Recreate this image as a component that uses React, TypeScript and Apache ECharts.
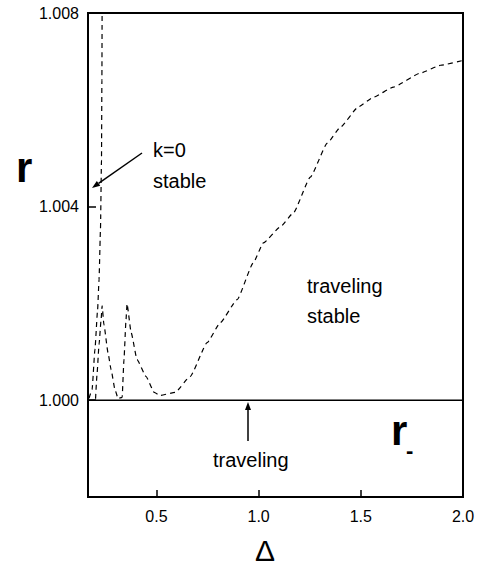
import React, { useEffect, useRef } from "react";
import * as echarts from "echarts";

// Δ range and r range
const xMin = 0.165;
const xMax = 2.0;
const yMin = 0.998;
const yMax = 1.008;

const xTickValues = [0.5, 1.0, 1.5];
const xLabelValues = [0.5, 1.0, 1.5, 2.0];
const yTickValues = [1.0, 1.004, 1.008];

// k=0 stability boundary (nearly vertical dashed curve)
const kZeroDelta = [0.170, 0.185, 0.199, 0.212, 0.219, 0.226, 0.231, 0.233, 0.234];
const kZeroR = [1.00004, 1.00022, 1.00105, 1.00187, 1.00249, 1.00352, 1.00496, 1.00661, 1.008];

// traveling-stable boundary (dashed)
const travDelta = [
  0.202, 0.209, 0.219, 0.229, 0.234, 0.243, 0.263, 0.278, 0.297, 0.312,
  0.332, 0.341, 0.351, 0.356, 0.376, 0.405, 0.449, 0.489, 0.518, 0.591,
  0.665, 0.748, 0.812, 0.895, 0.974, 1.023, 1.106, 1.170, 1.253, 1.336,
  1.400, 1.488, 1.562, 1.660, 1.792, 1.890, 2.0,
];
const travR = [
  1.00003, 1.00053, 1.00115, 1.00166, 1.00195, 1.00156, 1.00098, 1.00063, 1.00022, 1.000035,
  1.00006, 1.00084, 1.00166, 1.00199, 1.0014, 1.00084, 1.00049, 1.00016, 1.0001, 1.00016,
  1.00049, 1.00119, 1.0016, 1.00208, 1.00284, 1.00325, 1.00358, 1.00387, 1.00461, 1.00531,
  1.00564, 1.00606, 1.00626, 1.00647, 1.00676, 1.00692, 1.00702,
];

// r_ line (r = 1)
const rMinusDelta = [xMin, xMax];
const rMinusR = [1.0, 1.0];

const FONT = "Liberation Sans, Arial, Helvetica, sans-serif";

function arrow(x1: number, y1: number, x2: number, y2: number) {
  const dx = x2 - x1;
  const dy = y2 - y1;
  const len = Math.sqrt(dx * dx + dy * dy);
  const ux = dx / len;
  const uy = dy / len;
  const hl = 8;
  const hw = 3;
  const bx = x2 - ux * hl;
  const by = y2 - uy * hl;
  return [
    {
      type: "line",
      shape: { x1, y1, x2: bx, y2: by },
      style: { stroke: "#000", lineWidth: 1.5 },
    },
    {
      type: "polygon",
      shape: {
        points: [
          [x2, y2],
          [bx - uy * hw, by + ux * hw],
          [bx + uy * hw, by - ux * hw],
        ],
      },
      style: { fill: "#000" },
    },
  ];
}

function txt(text: string, x: number, y: number, size: number, align = "left", weight = "normal") {
  return {
    type: "text",
    x,
    y,
    style: {
      text,
      font: `${weight} ${size}px ${FONT}`,
      fill: "#000",
      textAlign: align,
      textVerticalAlign: "middle",
    },
  };
}

export default function App() {
  const ref = useRef<HTMLDivElement>(null);
  useEffect(() => {
    if (!ref.current) return;
    const chart = echarts.init(ref.current, null, { renderer: "svg" });
    const dashed = { color: "#000", width: 1.2, type: [5, 4] as any };
    chart.setOption({
      animation: false,
      backgroundColor: "#fff",
      grid: {
        left: 88,
        right: 21,
        top: 13,
        bottom: 70,
        show: true,
        borderColor: "#000",
        borderWidth: 2,
        backgroundColor: "transparent",
      },
      xAxis: {
        type: "value",
        min: xMin,
        max: xMax,
        axisLine: { show: false },
        splitLine: { show: false },
        axisTick: {
          show: true,
          inside: true,
          length: 7,
          lineStyle: { color: "#000", width: 1.5 },
          customValues: xTickValues,
        },
        axisLabel: {
          show: true,
          margin: 11,
          color: "#000",
          fontSize: 16,
          fontFamily: FONT,
          customValues: xLabelValues,
          formatter: (v: number) => v.toFixed(1),
        },
      },
      yAxis: {
        type: "value",
        min: yMin,
        max: yMax,
        axisLine: { show: false },
        splitLine: { show: false },
        axisTick: {
          show: true,
          inside: true,
          length: 8,
          lineStyle: { color: "#000", width: 1.5 },
          customValues: yTickValues,
        },
        axisLabel: {
          show: true,
          margin: 9,
          color: "#000",
          fontSize: 16,
          fontFamily: FONT,
          customValues: yTickValues,
          formatter: (v: number) => v.toFixed(3),
        },
      },
      series: [
        {
          type: "line",
          data: rMinusDelta.map((d, i) => [d, rMinusR[i]]),
          symbol: "none",
          lineStyle: { color: "#000", width: 1.6 },
          clip: true,
        },
        {
          type: "line",
          data: kZeroDelta.map((d, i) => [d, kZeroR[i]]),
          symbol: "none",
          smooth: 0.15,
          smoothMonotone: "x",
          lineStyle: dashed,
          clip: true,
        },
        {
          type: "line",
          data: travDelta.map((d, i) => [d, travR[i]]),
          symbol: "none",
          smooth: 0.15,
          smoothMonotone: "x",
          lineStyle: dashed,
          clip: true,
        },
      ],
      graphic: [
        txt("r", 16, 167, 42, "left", "bold"),
        txt("k=0", 153, 150, 20),
        txt("stable", 153, 181, 20),
        txt("traveling", 307, 286, 20),
        txt("stable", 307, 316, 20),
        txt("traveling", 213, 460, 20),
        txt("r", 391, 430, 42, "left", "bold"),
        txt("-", 406, 450, 22, "left", "bold"),
        txt("Δ", 265, 550, 30, "center"),
        ...arrow(142, 153, 92, 188),
        ...arrow(248, 441, 248, 402),
      ],
    });
    return () => chart.dispose();
  }, []);
  return (
    <div
      ref={ref}
      style={{ position: "fixed", left: 0, top: 0, width: 484, height: 567 }}
    />
  );
}
